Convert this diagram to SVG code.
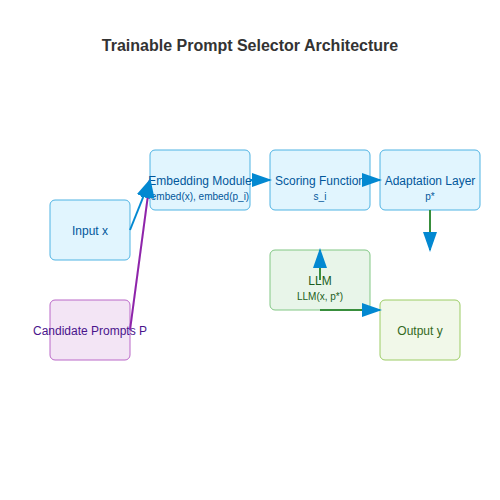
<svg xmlns="http://www.w3.org/2000/svg" width="500" height="500" viewBox="0 0 500 500">
<defs>
<marker id="arr" viewBox="0 0 10 7" markerWidth="10" markerHeight="7" refX="9" refY="3.5" orient="auto" markerUnits="strokeWidth">
<polygon points="0 0, 10 3.5, 0 7" fill="#0288d1"/>
</marker>
<style>
text{font-family:"Liberation Sans",Arial,sans-serif;text-anchor:middle}
.title{font-size:16px;font-weight:bold;fill:#333}
.blue rect{fill:#e1f5fe;stroke:#4fb3e3;stroke-width:1}
.blue text{fill:#01579b}
.purple rect{fill:#f3e5f5;stroke:#ba68c8;stroke-width:1}
.purple text{fill:#4a148c}
.green rect{fill:#e8f5e9;stroke:#81c784;stroke-width:1}
.green text{fill:#1b5e20}
.lime rect{fill:#f1f8e9;stroke:#9ccc65;stroke-width:1}
.lime text{fill:#33691e}
.m{font-size:12px}
.s{font-size:10px}
.c{fill:none;stroke-width:2;marker-end:url(#arr)}
</style>
</defs>
<rect width="500" height="500" fill="#fff"/>
<text class="title" x="250" y="51">Trainable Prompt Selector Architecture</text>
<g id="input" class="blue"><rect x="50" y="200" width="80" height="60" rx="5"/><text class="m" x="90" y="235">Input x</text></g>
<g id="candidates" class="purple"><rect x="50" y="300" width="80" height="60" rx="5"/><text class="m" x="90" y="335">Candidate Prompts P</text></g>
<g id="embedding" class="blue"><rect x="150" y="150" width="100" height="60" rx="5"/><text class="m" x="200" y="185">Embedding Module</text><text class="s" x="200" y="200">embed(x), embed(p_i)</text></g>
<g id="scoring" class="blue"><rect x="270" y="150" width="100" height="60" rx="5"/><text class="m" x="320" y="185">Scoring Function</text><text class="s" x="320" y="200">s_i</text></g>
<g id="adaptation" class="blue"><rect x="380" y="150" width="100" height="60" rx="5"/><text class="m" x="430" y="185">Adaptation Layer</text><text class="s" x="430" y="200">p*</text></g>
<g id="llm" class="green"><rect x="270" y="250" width="100" height="60" rx="5"/><text class="m" x="320" y="285">LLM</text><text class="s" x="320" y="300">LLM(x, p*)</text></g>
<g id="output" class="lime"><rect x="380" y="300" width="80" height="60" rx="5"/><text class="m" x="420" y="335">Output y</text></g>
<g id="connectors">
<line class="c" x1="130" y1="230" x2="150" y2="180" stroke="#0288d1"/>
<line class="c" x1="130" y1="330" x2="150" y2="180" stroke="#8e24aa"/>
<line class="c" x1="250" y1="180" x2="270" y2="180" stroke="#0288d1"/>
<line class="c" x1="370" y1="180" x2="380" y2="180" stroke="#0288d1"/>
<line class="c" x1="430" y1="210" x2="430" y2="250" stroke="#388e3c"/>
<line class="c" x1="320" y1="280" x2="320" y2="250" stroke="#388e3c"/>
<line class="c" x1="320" y1="310" x2="380" y2="310" stroke="#388e3c"/>
</g>
</svg>
